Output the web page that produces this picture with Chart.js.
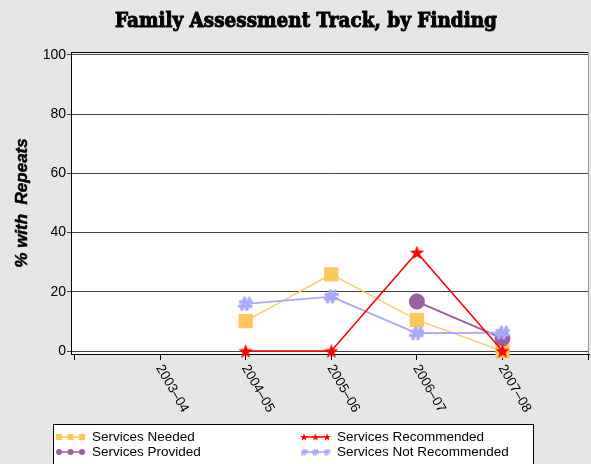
<!DOCTYPE html>
<html>
<head>
<meta charset="utf-8">
<script src="https://cdn.jsdelivr.net/npm/chart.js@4.4.1/dist/chart.umd.min.js"></script>
<style>
  html, body { margin: 0; padding: 0; background: #e6e6e6; }
  #chart { display: block; }
</style>
</head>
<body>
<canvas id="chart" width="591" height="464"></canvas>
<script>
// data
const categories = ["2003–04", "2004–05", "2005–06", "2006–07", "2007–08"];
const yTicks = [0, 20, 40, 60, 80, 100];
const servicesNeeded = [null, 10.1, 25.9, 10.5, 0];
const servicesRecommended = [null, 0, 0, 33.3, 0];
const servicesProvided = [null, null, null, 16.7, 4.3];
const servicesNotRecommended = [null, 15.9, 18.4, 6.0, 6.2];

const ORANGE = "#ffc85a";
const RED = "#ff0000";
const PURPLE = "#9c60a2";
const LAVENDER = "#a8a8ff";
const SANS = '"Liberation Sans", Arial, sans-serif';

// marker images
function starImage(size, color) {
    const c = document.createElement("canvas");
    c.width = size; c.height = size;
    const g = c.getContext("2d");
    const cx = size / 2, cy = size / 2, R = size / 2, r = R * 0.42;
    g.beginPath();
    for (let i = 0; i < 10; i++) {
        const a = -Math.PI / 2 + i * Math.PI / 5;
        const rr = i % 2 === 0 ? R : r;
        g.lineTo(cx + rr * Math.cos(a), cy + rr * Math.sin(a) + size * 0.04);
    }
    g.closePath();
    g.fillStyle = color;
    g.fill();
    return c;
}

// chunky slanted hash, like the plotting symbol in the picture
function hashImage(size, color) {
    const c = document.createElement("canvas");
    c.width = size; c.height = size;
    const g = c.getContext("2d");
    const s = size / 14;
    g.strokeStyle = color;
    g.lineCap = "round";
    g.lineWidth = 3.2 * s;
    g.beginPath();
    g.moveTo(6 * s, 2 * s); g.lineTo(3.5 * s, 12 * s);
    g.moveTo(10.5 * s, 2 * s); g.lineTo(8 * s, 12 * s);
    g.moveTo(2 * s, 5 * s); g.lineTo(12.5 * s, 5 * s);
    g.moveTo(1.5 * s, 9 * s); g.lineTo(12 * s, 9 * s);
    g.stroke();
    return c;
}

const starBig = starImage(15, RED);
const hashBig = hashImage(15, LAVENDER);

function toPoints(arr) {
    return categories.map((c, i) => ({ x: i + 1, y: arr[i] }));
}

// background, plot frame and hand-placed texts
const decorations = {
    id: "decorations",
    beforeDraw(chart) {
        const { ctx, chartArea: a } = chart;
        ctx.save();
        ctx.fillStyle = "#e6e6e6";
        ctx.fillRect(0, 0, chart.width, chart.height);
        ctx.fillStyle = "#ffffff";
        ctx.fillRect(a.left, a.top, a.right - a.left, a.bottom - a.top);
        ctx.restore();
    },
    afterDraw(chart) {
        const { ctx, chartArea: a } = chart;
        ctx.save();

        // top and right frame
        ctx.strokeStyle = "#000";
        ctx.lineWidth = 1;
        ctx.beginPath();
        ctx.moveTo(a.left, a.top + 0.5);
        ctx.lineTo(a.right, a.top + 0.5);
        ctx.stroke();
        ctx.strokeStyle = "#999";
        ctx.beginPath();
        ctx.moveTo(a.right - 0.5, a.top);
        ctx.lineTo(a.right - 0.5, a.bottom);
        ctx.stroke();

        // title (heavy serif, stretched to the width in the picture)
        ctx.fillStyle = "#000";
        ctx.strokeStyle = "#000";
        ctx.font = 'bold 21px "DejaVu Serif Condensed", "DejaVu Serif", serif';
        ctx.textBaseline = "alphabetic";
        ctx.textAlign = "left";
        const title = "Family Assessment Track, by Finding";
        const w = ctx.measureText(title).width;
        ctx.save();
        ctx.translate(115, 27);
        ctx.scale(382 / w, 1);
        ctx.lineWidth = 0.9;
        ctx.fillText(title, 0, 0);
        ctx.strokeText(title, 0, 0);
        ctx.restore();

        // y title
        ctx.save();
        ctx.translate(22, 203);
        ctx.rotate(-Math.PI / 2);
        ctx.font = "bold italic 17px " + SANS;
        ctx.textAlign = "center";
        ctx.textBaseline = "middle";
        ctx.lineWidth = 0.5;
        ctx.fillText("% with  Repeats", 0, 0);
        ctx.strokeText("% with  Repeats", 0, 0);
        ctx.restore();

        // rotated x labels
        const xs = chart.scales.x;
        ctx.font = "13.5px " + SANS;
        ctx.textAlign = "left";
        ctx.textBaseline = "middle";
        categories.forEach((c, i) => {
            const px = xs.getPixelForValue(i + 1);
            ctx.save();
            ctx.translate(px - 1, a.bottom + 12);
            ctx.rotate(Math.PI / 3);
            ctx.fillText(c, 0, 0);
            ctx.restore();
        });

        // legend
        ctx.fillStyle = "#fff";
        ctx.fillRect(53, 424, 480, 50);
        ctx.strokeStyle = "#000";
        ctx.lineWidth = 1;
        ctx.strokeRect(53.5, 424.5, 480, 60);
        const items = [
            { label: "Services Needed", color: ORANGE, mark: "rect", x: 58, y: 437 },
            { label: "Services Recommended", color: RED, mark: "star", x: 303, y: 437 },
            { label: "Services Provided", color: PURPLE, mark: "circle", x: 58, y: 452 },
            { label: "Services Not Recommended", color: LAVENDER, mark: "hash", x: 303, y: 452 }
        ];
        const starSmall = starImage(8, RED);
        const hashSmall = hashImage(7, LAVENDER);
        items.forEach(it => {
            ctx.strokeStyle = it.color;
            ctx.lineWidth = 1.5;
            ctx.beginPath();
            ctx.moveTo(it.x, it.y);
            ctx.lineTo(it.x + 25, it.y);
            ctx.stroke();
            ctx.fillStyle = it.color;
            [1, 12.5, 24].forEach(dx => {
                const mx = it.x + dx;
                if (it.mark === "rect") ctx.fillRect(mx - 3, it.y - 3, 6, 6);
                else if (it.mark === "circle") {
                    ctx.beginPath();
                    ctx.arc(mx, it.y, 3, 0, Math.PI * 2);
                    ctx.fill();
                } else if (it.mark === "star") ctx.drawImage(starSmall, mx - 4, it.y - 4);
                else ctx.drawImage(hashSmall, mx - 3.5, it.y - 3.5);
            });
            ctx.fillStyle = "#000";
            ctx.font = "13.5px " + SANS;
            ctx.textAlign = "left";
            ctx.textBaseline = "middle";
            ctx.fillText(it.label, it.x + 34, it.y);
        });

        ctx.restore();
    }
};

new Chart(document.getElementById("chart").getContext("2d"), {
    type: "line",
    data: {
        datasets: [
            {
                label: "Services Recommended",
                data: toPoints(servicesRecommended),
                borderColor: RED,
                backgroundColor: RED,
                borderWidth: 1.5,
                pointStyle: starBig,
                order: 0
            },
            {
                label: "Services Not Recommended",
                data: toPoints(servicesNotRecommended),
                borderColor: LAVENDER,
                backgroundColor: LAVENDER,
                borderWidth: 1.8,
                pointStyle: hashBig,
                order: 1
            },
            {
                label: "Services Provided",
                data: toPoints(servicesProvided),
                borderColor: PURPLE,
                backgroundColor: PURPLE,
                borderWidth: 2,
                pointStyle: "circle",
                pointRadius: 7,
                order: 2
            },
            {
                label: "Services Needed",
                data: toPoints(servicesNeeded),
                borderColor: ORANGE,
                backgroundColor: ORANGE,
                borderWidth: 1.3,
                pointStyle: "rect",
                pointRadius: 9.2,
                order: 3
            }
        ]
    },
    options: {
        responsive: false,
        animation: false,
        clip: false,
        layout: { autoPadding: false, padding: { left: 0, top: 52, right: 2, bottom: 0 } },
        elements: {
            line: { tension: 0, fill: false },
            point: { borderWidth: 0, hoverRadius: 7 }
        },
        plugins: {
            legend: { display: false },
            title: { display: false },
            tooltip: { enabled: false }
        },
        scales: {
            x: {
                type: "linear",
                min: -0.04,
                max: 6.01,
                afterBuildTicks: s => { s.ticks = [0, 1, 2, 3, 4, 5, 6].map(v => ({ value: v })); },
                afterFit: s => { s.height = 110; },
                ticks: { display: false },
                grid: { drawOnChartArea: false, drawTicks: true, tickLength: 6, color: "#000" },
                border: { display: true, color: "#000", width: 1 }
            },
            y: {
                min: -1,
                max: 101,
                afterBuildTicks: s => { s.ticks = yTicks.map(v => ({ value: v })); },
                afterFit: s => { s.width = 71; },
                ticks: { color: "#000", font: { family: SANS, size: 14 }, padding: 1 },
                grid: { color: "#444", lineWidth: 1, tickLength: 4 },
                border: { display: true, color: "#000", width: 1 }
            }
        }
    },
    plugins: [decorations]
});
</script>
</body>
</html>
